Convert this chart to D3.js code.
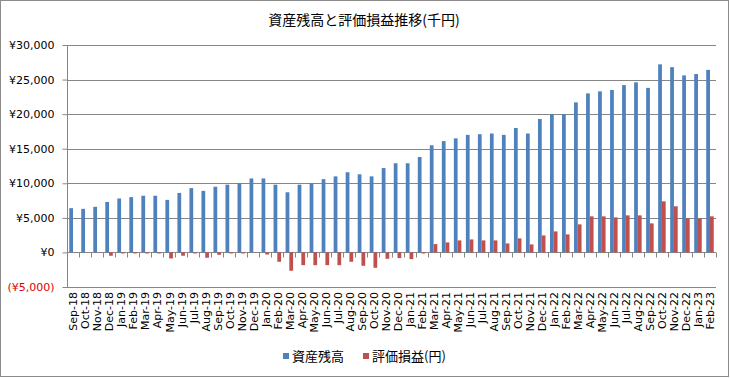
<!DOCTYPE html>
<html>
<head>
<meta charset="utf-8">
<script src="https://cdn.jsdelivr.net/npm/d3@7"></script>
<style>
  html, body { margin: 0; padding: 0; background: #fff; }
  #chart svg { display: block; width: 731px; height: 378px; }
</style>
</head>
<body>
<div id="chart"><svg></svg></div>
<script>
const MONTHS = [
  'Sep-18', 'Oct-18', 'Nov-18', 'Dec-18',
  'Jan-19', 'Feb-19', 'Mar-19', 'Apr-19', 'May-19', 'Jun-19', 'Jul-19', 'Aug-19', 'Sep-19', 'Oct-19', 'Nov-19', 'Dec-19',
  'Jan-20', 'Feb-20', 'Mar-20', 'Apr-20', 'May-20', 'Jun-20', 'Jul-20', 'Aug-20', 'Sep-20', 'Oct-20', 'Nov-20', 'Dec-20',
  'Jan-21', 'Feb-21', 'Mar-21', 'Apr-21', 'May-21', 'Jun-21', 'Jul-21', 'Aug-21', 'Sep-21', 'Oct-21', 'Nov-21', 'Dec-21',
  'Jan-22', 'Feb-22', 'Mar-22', 'Apr-22', 'May-22', 'Jun-22', 'Jul-22', 'Aug-22', 'Sep-22', 'Oct-22', 'Nov-22', 'Dec-22',
  'Jan-23', 'Feb-23',
];

// 資産残高 (千円)
const BALANCE = [
  6400, 6300, 6600, 7300,
  7800, 8000, 8200, 8200, 7600, 8600, 9300, 8900, 9500, 9800, 10000, 10700,
  10700, 9800, 8700, 9800, 10000, 10600, 11000, 11600, 11300, 11000, 12200, 12900,
  12900, 13800, 15500, 16100, 16500, 17000, 17100, 17200, 17000, 18000, 17200, 19300,
  20000, 20000, 21700, 23000, 23300, 23500, 24200, 24600, 23800, 27200, 26800, 25600,
  25800, 26400,
];

// 評価損益
const PNL = [
  -30, -30, -30, -480,
  -150, -150, -150, -150, -870, -480, -150, -770, -340, -150, -150, -30,
  -300, -1350, -2650, -1840, -1840, -1840, -1840, -1350, -1930, -2220, -920, -820,
  -970, -150, 1200, 1450, 1740, 1880, 1740, 1740, 1300, 2030, 1160, 2460,
  3040, 2610, 4060, 5220, 5220, 5070, 5360, 5360, 4200, 7390, 6670, 4930,
  4930, 5220,
];

const SERIES = ['資産残高', '評価損益(円)'];
const COLORS = ['#4f81bd', '#c0504d'];
const Y_TICKS = [-5000, 0, 5000, 10000, 15000, 20000, 25000, 30000];
const TITLE = '資産残高と評価損益推移(千円)';

const SVG = d3.select('#chart svg');
const WIDTH = 731;
const HEIGHT = 378;
const LEFT = 67;
const RIGHT = 716;
const TOP = 45;
const BOTTOM = 287;
const GRID = '#868686';
const LATIN = '"DejaVu Sans", sans-serif';
const CJK = '"Noto Sans CJK JP", sans-serif';

SVG.attr('width', WIDTH).attr('height', HEIGHT);

// outer frame
SVG.append('rect')
  .attr('x', 0.5)
  .attr('y', 0.5)
  .attr('width', 728)
  .attr('height', 376)
  .style('fill', '#fff')
  .style('stroke', '#8c8c8c');

SVG.append('text')
  .attr('x', 364)
  .attr('y', 25)
  .attr('text-anchor', 'middle')
  .style('font-family', CJK)
  .style('font-size', '14px')
  .style('fill', '#000')
  .text(TITLE);

const Y_SCALE = d3.scaleLinear().domain([-5000, 30000]).range([BOTTOM, TOP]);
const X_SCALE = d3.scaleBand().domain(MONTHS).range([LEFT, RIGHT]);
const INNER = d3.scaleBand().domain(SERIES).range([0, X_SCALE.bandwidth()]).paddingOuter(0.6);

const fmt = d3.format(',');

// gridlines
SVG.append('g')
  .attr('id', 'grid')
  .selectAll('line')
  .data(Y_TICKS)
  .join('line')
  .attr('x1', LEFT)
  .attr('x2', RIGHT)
  .attr('y1', (d) => Math.round(Y_SCALE(d)) + 0.5)
  .attr('y2', (d) => Math.round(Y_SCALE(d)) + 0.5)
  .style('stroke', GRID)
  .style('stroke-width', 1);

// y axis
const Y_AXIS = d3.axisLeft(Y_SCALE)
  .tickValues(Y_TICKS)
  .tickSize(5)
  .tickPadding(8)
  .tickFormat((v) => (v < 0 ? `(¥${fmt(-v)})` : `¥${fmt(v)}`));
const Y_AXIS_G = SVG.append('g')
  .attr('id', 'yAxis')
  .attr('transform', `translate(${LEFT + 0.5}, 0)`);
Y_AXIS(Y_AXIS_G);
Y_AXIS_G.select('.domain').remove();
Y_AXIS_G.selectAll('.tick line').style('stroke', GRID);
Y_AXIS_G.selectAll('.tick text')
  .style('font-family', LATIN)
  .style('font-size', '11px')
  .style('fill', (d) => (d < 0 ? '#e00000' : '#000'));
Y_AXIS_G.append('line')
  .attr('y1', TOP)
  .attr('y2', BOTTOM + 0.5)
  .style('stroke', GRID);

// x axis on the zero line
const ZERO = Math.round(Y_SCALE(0)) + 0.5;
const X_AXIS_G = SVG.append('g').attr('id', 'xAxis');
X_AXIS_G.selectAll('line')
  .data(d3.range(MONTHS.length + 1))
  .join('line')
  .attr('x1', (i) => Math.round(LEFT + i * X_SCALE.step()) + 0.5)
  .attr('x2', (i) => Math.round(LEFT + i * X_SCALE.step()) + 0.5)
  .attr('y1', ZERO)
  .attr('y2', ZERO + 5)
  .style('stroke', GRID);

// bars
const CHART = SVG.append('g').attr('id', 'bars');
[BALANCE, PNL].forEach((values, s) => {
  CHART.append('g')
    .selectAll('rect')
    .data(values)
    .join('rect')
    .attr('x', (d, i) => X_SCALE(MONTHS[i]) + INNER(SERIES[s]))
    .attr('width', INNER.bandwidth())
    .attr('y', (d) => Y_SCALE(Math.max(0, d)))
    .attr('height', (d) => Math.abs(Y_SCALE(d) - Y_SCALE(0)))
    .style('fill', COLORS[s]);
});

// month labels
SVG.append('g')
  .attr('id', 'xLabels')
  .selectAll('text')
  .data(MONTHS)
  .join('text')
  .attr('transform', (d) => `translate(${X_SCALE(d) + X_SCALE.bandwidth() / 2 + 0.5}, ${BOTTOM + 5}) rotate(-90)`)
  .attr('dy', '0.35em')
  .attr('text-anchor', 'end')
  .style('font-family', LATIN)
  .style('font-size', '11px')
  .style('fill', '#000')
  .text((d) => d);

// legend
const LEGEND_X = [283, 363];
const LEGEND = SVG.append('g').attr('id', 'legend');
SERIES.forEach((name, i) => {
  LEGEND.append('rect')
    .attr('x', LEGEND_X[i])
    .attr('y', 353)
    .attr('width', 6)
    .attr('height', 6)
    .style('fill', COLORS[i]);
  LEGEND.append('text')
    .attr('x', LEGEND_X[i] + 9)
    .attr('y', 361)
    .style('font-family', CJK)
    .style('font-size', '13px')
    .style('fill', '#000')
    .text(name);
});
</script>
</body>
</html>
